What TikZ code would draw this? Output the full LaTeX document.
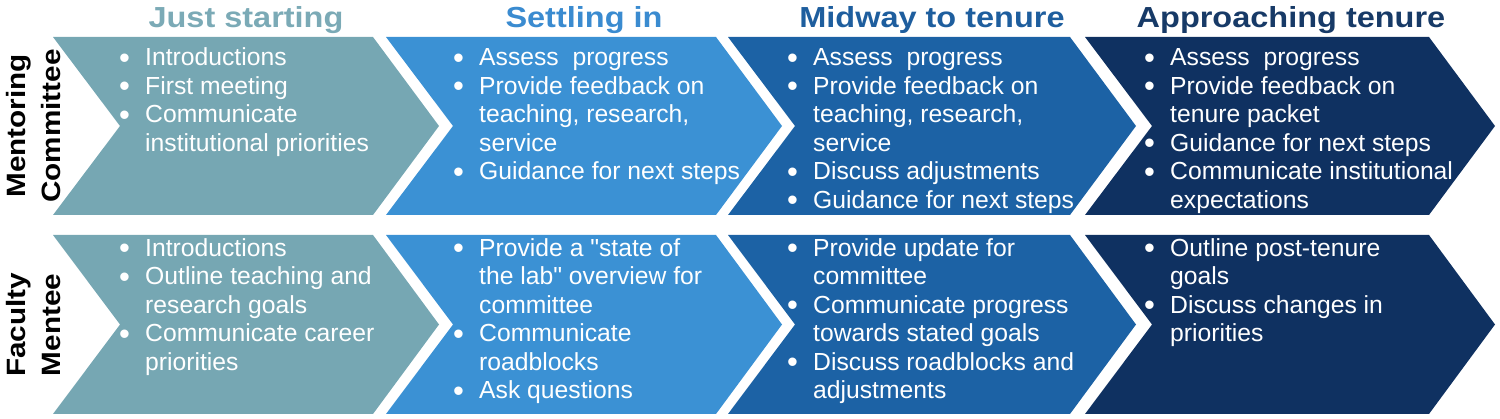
\documentclass[tikz,border=0pt]{standalone}
\usepackage{fontspec}
\setmainfont{Liberation Sans}
\newfontfamily\headfont{Liberation Sans}[FakeStretch=1.12]
\newfontfamily\nomapfont{Liberation Sans}[Ligatures=TeXOff]
\definecolor{cA}{HTML}{76A7B3}
\definecolor{cB}{HTML}{3B91D4}
\definecolor{cC}{HTML}{1C62A5}
\definecolor{cD}{HTML}{0F3161}
\definecolor{tA}{HTML}{7BAAB6}
\definecolor{tB}{HTML}{3A8BD0}
\definecolor{tC}{HTML}{1E5E9E}
\definecolor{tD}{HTML}{173A67}
\newcommand\bul{\makebox[26pt][l]{\raisebox{-2.5pt}{\fontsize{31}{31}\selectfont\symbol{"2022}}}}
\newcommand\ind{\hspace*{26pt}}
\newcommand\sq{{\nomapfont\symbol{34}}}
\newcommand\blist[1]{\vtop{\baselineskip=28.5pt\lineskiplimit=-30pt\lineskip=0pt #1}}
\newcommand\bline[1]{\hbox{#1}}
% chevron: left, right corner, top, bottom, mid, colour
\newcommand\chev[6]{\fill[#6] (#1,#3) -- (#2,#3) -- (#2+66,#5) -- (#2,#4) -- (#1,#4) -- (#1+67,#5) -- cycle;}
\begin{document}
\begin{tikzpicture}[x=1pt,y=-1pt,
  body/.style={anchor=base west, inner sep=0pt, text=white,
    font=\fontsize{24.7}{28.5}\selectfont},
  head/.style={anchor=base, inner sep=0pt, font=\headfont\bfseries\fontsize{29}{32}\selectfont},
  side/.style={rotate=90, inner sep=0pt, align=center, text=black,
    font=\headfont\bfseries\fontsize{26.5}{35}\selectfont}]
\useasboundingbox (0,0) rectangle (1500,419);
% chevrons row 1
\chev{53}{373}{37}{215}{126}{cA}
\chev{386}{716}{37}{215}{126}{cB}
\chev{728}{1070}{37}{215}{126}{cC}
\chev{1085}{1429}{37}{215}{126}{cD}
% chevrons row 2
\chev{53}{373}{235}{414}{324.5}{cA}
\chev{386}{716}{235}{414}{324.5}{cB}
\chev{728}{1070}{235}{414}{324.5}{cC}
\chev{1085}{1429}{235}{414}{324.5}{cD}
% titles
\node[head, text=tA] (h1) at (246,28) {Just starting};
\node[head, text=tB] (h2) at (584,28) {Settling in};
\node[head, text=tC] (h3) at (932,28) {Midway to tenure};
\node[head, text=tD] (h4) at (1291,28) {Approaching tenure};
% side labels
\node[side] (s1) at (34,126) {Mentoring\\Committee};
\node[side] (s2) at (34,325) {Faculty\\Mentee};
% row 1 text
\node[body] (a1) at (119,66) {\blist{\bline{\bul Introductions}\bline{\bul First meeting}\bline{\bul Communicate}\bline{\ind institutional priorities}}};
\node[body] (a2) at (453,66) {\blist{\bline{\bul Assess\ \ progress}\bline{\bul Provide feedback on}\bline{\ind teaching, research,}\bline{\ind service}\bline{\bul Guidance for next steps}}};
\node[body] (a3) at (787,66) {\blist{\bline{\bul Assess\ \ progress}\bline{\bul Provide feedback on}\bline{\ind teaching, research,}\bline{\ind service}\bline{\bul Discuss adjustments}\bline{\bul Guidance for next steps}}};
\node[body] (a4) at (1144,66) {\blist{\bline{\bul Assess\ \ progress}\bline{\bul Provide feedback on}\bline{\ind tenure packet}\bline{\bul Guidance for next steps}\bline{\bul Communicate institutional}\bline{\ind expectations}}};
% row 2 text
\node[body] (b1) at (119,256.5) {\blist{\bline{\bul Introductions}\bline{\bul Outline teaching and}\bline{\ind research goals}\bline{\bul Communicate career}\bline{\ind priorities}}};
\node[body] (b2) at (453,256.5) {\blist{\bline{\bul Provide a \sq state of}\bline{\ind the lab\sq\ overview for}\bline{\ind committee}\bline{\bul Communicate}\bline{\ind roadblocks}\bline{\bul Ask questions}}};
\node[body] (b3) at (787,256.5) {\blist{\bline{\bul Provide update for}\bline{\ind committee}\bline{\bul Communicate progress}\bline{\ind towards stated goals}\bline{\bul Discuss roadblocks and}\bline{\ind adjustments}}};
\node[body] (b4) at (1144,256.5) {\blist{\bline{\bul Outline post-tenure}\bline{\ind goals}\bline{\bul Discuss changes in}\bline{\ind priorities}}};
\end{tikzpicture}
\end{document}
